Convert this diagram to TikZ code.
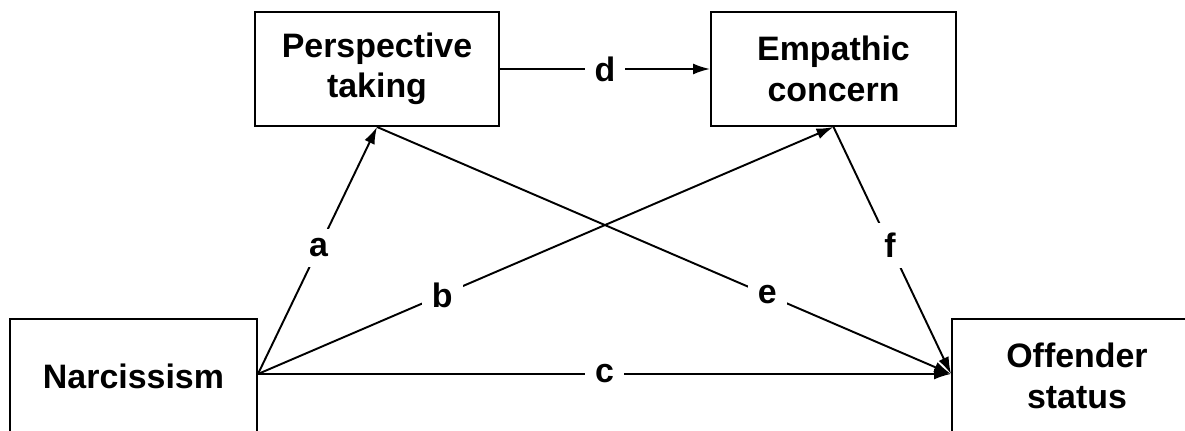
\documentclass[tikz,border=0pt]{standalone}
\usepackage{fontspec}
\setmainfont{Liberation Sans}
\usetikzlibrary{arrows.meta}

\begin{document}
\begin{tikzpicture}[
        box/.style={draw, line width=1.1pt, align=center, inner sep=0pt,
            font=\bfseries\fontsize{19.3}{23}\selectfont},
        path/.style={line width=1.1pt, -{Latex[length=0.34cm,width=0.22cm]}},
        lbl/.style={fill=white, inner sep=0.2cm,
            font=\bfseries\fontsize{19.3}{23}\selectfont}
    ]
            \useasboundingbox (0,0) rectangle (23.7,8.6);

            % Variables
            \node[box, minimum width=4.94cm, minimum height=2.28cm] (narc) at (2.67,1.08) {Narcissism};
            \node[box, minimum width=4.88cm, minimum height=2.28cm] (persp) at (7.54,7.22) {Perspective\\taking};
            \node[box, minimum width=4.9cm, minimum height=2.28cm] (empat) at (16.67,7.22) {Empathic\\concern};
            \node[box, minimum width=5cm, minimum height=2.28cm] (offend) at (21.54,1.08) {Offender\\status};

            % Paths
            \draw[path] ([yshift=0.4mm]narc.east) -- node[lbl, pos=0.51] (la) {a} (persp.south);
            \draw[path] ([yshift=0.4mm]narc.east) -- node[lbl, pos=0.32] (lb) {b} (empat.south);
            \draw[path] ([yshift=0.4mm]narc.east) -- node[lbl, pos=0.5] (lc) {c} ([yshift=0.4mm]offend.west);
            \draw[path] (persp.east) -- node[lbl, pos=0.5] (ld) {d} (empat.west);
            \draw[path] (persp.south) -- node[lbl, pos=0.68] (le) {e} ([yshift=0.4mm]offend.west);
            \draw[path] (empat.south) -- node[lbl, pos=0.48] (lf) {f} ([yshift=0.4mm]offend.west);
        \end{tikzpicture}
\end{document}
